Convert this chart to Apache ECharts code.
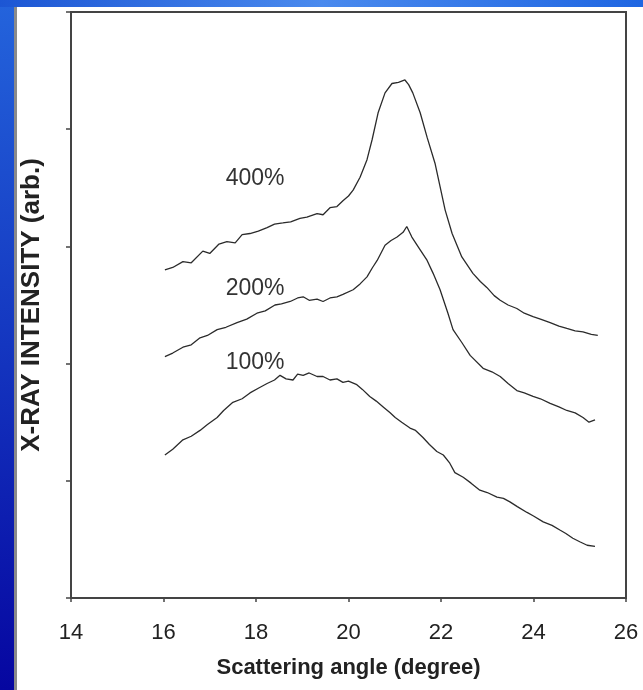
<!DOCTYPE html>
<html>
<head>
<meta charset="utf-8">
<script src="https://cdn.jsdelivr.net/npm/echarts@6/dist/echarts.min.js"></script>
<style>
  html, body { margin: 0; padding: 0; }
  #chart { width: 643px; height: 690px; }
</style>
</head>
<body>
<div id="chart"></div>
<script>
// scattering angle (degree) / intensity (arb.)
const angle400 = [16.03,16.2,16.42,16.6,16.85,17.0,17.2,17.37,17.55,17.7,17.87,18.05,18.24,18.4,18.58,18.75,18.95,19.1,19.32,19.45,19.6,19.75,19.88,20.0,20.1,20.25,20.4,20.51,20.64,20.79,20.94,21.08,21.22,21.3,21.39,21.55,21.7,21.87,21.98,22.09,22.24,22.45,22.69,22.85,22.99,23.15,23.28,23.45,23.64,23.8,23.99,24.15,24.36,24.55,24.72,24.9,25.07,25.25,25.39]
const inten400 = [2.80,2.82,2.87,2.86,2.96,2.94,3.02,3.04,3.03,3.10,3.11,3.13,3.16,3.19,3.20,3.21,3.24,3.25,3.28,3.27,3.33,3.34,3.39,3.43,3.48,3.59,3.74,3.91,4.14,4.31,4.39,4.40,4.42,4.38,4.31,4.14,3.93,3.71,3.51,3.31,3.11,2.91,2.77,2.70,2.65,2.58,2.54,2.50,2.47,2.43,2.40,2.38,2.35,2.32,2.30,2.28,2.27,2.25,2.24]

const angle200 = [16.03,16.2,16.42,16.6,16.79,16.95,17.16,17.35,17.59,17.8,18.02,18.2,18.41,18.55,18.74,18.9,19.02,19.15,19.32,19.45,19.6,19.75,19.88,20.1,20.25,20.4,20.52,20.62,20.79,20.92,21.05,21.18,21.26,21.37,21.55,21.7,21.83,21.98,22.15,22.26,22.45,22.63,22.91,23.1,23.28,23.45,23.64,23.8,23.99,24.15,24.36,24.55,24.72,24.9,25.07,25.2,25.33]
const inten200 = [2.06,2.09,2.14,2.16,2.22,2.24,2.29,2.31,2.35,2.38,2.43,2.45,2.50,2.51,2.53,2.56,2.57,2.54,2.55,2.53,2.56,2.57,2.59,2.63,2.68,2.74,2.82,2.88,3.01,3.05,3.08,3.12,3.17,3.08,2.97,2.88,2.77,2.63,2.43,2.29,2.18,2.07,1.96,1.93,1.89,1.83,1.77,1.75,1.72,1.70,1.66,1.63,1.60,1.58,1.54,1.50,1.52]

const angle100 = [16.03,16.2,16.42,16.6,16.79,16.95,17.16,17.3,17.5,17.7,17.87,18.05,18.24,18.4,18.52,18.65,18.8,18.9,19.02,19.15,19.32,19.45,19.6,19.75,19.88,20.0,20.18,20.3,20.46,20.6,20.75,20.9,21.01,21.15,21.33,21.45,21.61,21.75,21.91,22.05,22.19,22.3,22.48,22.65,22.84,23.0,23.21,23.35,23.49,23.65,23.86,24.0,24.21,24.4,24.57,24.7,24.85,25.0,25.16,25.33]
const inten100 = [1.22,1.27,1.35,1.38,1.43,1.48,1.54,1.60,1.67,1.70,1.75,1.79,1.83,1.86,1.90,1.87,1.86,1.91,1.90,1.92,1.89,1.89,1.86,1.87,1.84,1.85,1.82,1.78,1.72,1.68,1.63,1.58,1.54,1.50,1.45,1.43,1.37,1.31,1.25,1.22,1.15,1.07,1.03,0.98,0.92,0.90,0.86,0.85,0.82,0.78,0.73,0.70,0.65,0.62,0.58,0.55,0.51,0.48,0.45,0.44]

const labelNames = ['400%', '200%', '100%']
const labelAngle = [17.98, 17.98, 17.98]
const labelInten = [3.58, 2.64, 2.01]
const xTicks = [14, 16, 18, 20, 22, 24, 26]

const font = 'Liberation Sans, Arial, sans-serif'
const ink = '#2b2b2b'

const pairs = (xs, ys) => xs.map((x, i) => [x, ys[i]])

const curve = (name, xs, ys, k) => ({
  name,
  type: 'line',
  data: pairs(xs, ys),
  symbol: 'none',
  smooth: false,
  lineStyle: { color: ink, width: 1.3 },
  markPoint: {
    symbol: 'circle',
    symbolSize: 0,
    data: [{
      coord: [labelAngle[k], labelInten[k]],
      label: {
        show: true,
        formatter: labelNames[k],
        color: '#333',
        fontSize: 23,
        fontFamily: font,
        position: 'inside'
      }
    }]
  }
})

const chart = echarts.init(document.getElementById('chart'))

chart.setOption({
  animation: false,
  backgroundColor: '#fff',
  graphic: [
    {
      type: 'rect', z: -10, silent: true,
      shape: { x: 0, y: 0, width: 643, height: 690 },
      style: {
        fill: new echarts.graphic.LinearGradient(0, 0, 0, 1, [
          { offset: 0, color: '#2464dc' },
          { offset: 0.5, color: '#1436c0' },
          { offset: 1, color: '#0606a0' }
        ])
      }
    },
    {
      type: 'rect', z: -9, silent: true,
      shape: { x: 0, y: 0, width: 643, height: 7 },
      style: {
        fill: new echarts.graphic.LinearGradient(0, 0, 1, 0, [
          { offset: 0, color: '#1c56d4' },
          { offset: 0.5, color: '#4a8aee' },
          { offset: 1, color: '#1f66e2' }
        ])
      }
    },
    {
      type: 'rect', z: -8, silent: true,
      shape: { x: 14, y: 7, width: 629, height: 683 },
      style: { fill: '#ffffff' }
    },
    {
      type: 'rect', z: -7, silent: true,
      shape: { x: 14, y: 7, width: 3, height: 683 },
      style: { fill: '#8a8a8a' }
    }
  ],
  grid: {
    left: 71, right: 17, top: 12, bottom: 92,
    show: true, borderColor: '#444', borderWidth: 2
  },
  xAxis: {
    type: 'value',
    min: 14, max: 26, interval: 2,
    name: 'Scattering angle (degree)',
    nameLocation: 'middle',
    nameGap: 59,
    nameTextStyle: { fontFamily: font, fontSize: 22, fontWeight: 'bold', color: '#222' },
    axisLine: { show: true, onZero: false, lineStyle: { color: '#444', width: 2 } },
    axisTick: { show: true, length: 4, lineStyle: { color: '#444', width: 1.5 } },
    axisLabel: {
      margin: 24, fontFamily: font, fontSize: 22, color: '#222',
      formatter: v => xTicks.includes(v) ? String(v) : ''
    },
    splitLine: { show: false }
  },
  yAxis: {
    type: 'value',
    min: 0, max: 5, interval: 1,
    name: 'X-RAY INTENSITY (arb.)',
    nameLocation: 'middle',
    nameGap: 26,
    nameTextStyle: { fontFamily: font, fontSize: 26, fontWeight: 'bold', color: '#222' },
    axisLine: { show: true, lineStyle: { color: '#444', width: 2 } },
    axisTick: { show: true, length: 5, lineStyle: { color: '#444', width: 1.5 } },
    axisLabel: { show: false },
    splitLine: { show: false }
  },
  series: [
    curve('400%', angle400, inten400, 0),
    curve('200%', angle200, inten200, 1),
    curve('100%', angle100, inten100, 2)
  ]
})
</script>
</body>
</html>
